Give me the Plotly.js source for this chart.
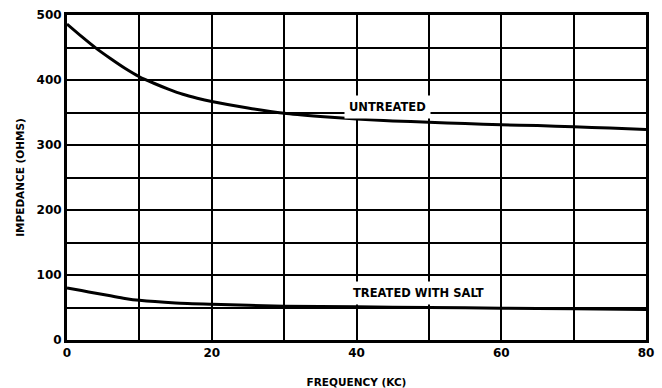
<!DOCTYPE html>
<html>
<head>
<meta charset="utf-8">
<script src="https://cdn.plot.ly/plotly-3.0.1.min.js"></script>
<style>
  html, body { margin: 0; padding: 0; background: #fff; }
  #chart { width: 662px; height: 388px; }
</style>
</head>
<body>
<div id="chart"></div>
<script>
// Impedance vs. frequency, untreated ground and ground treated with salt
const freqUntreated = [0, 2, 4, 6, 8, 10, 12, 14, 16, 18, 20, 25, 30, 35, 40, 45, 50, 55, 60, 65, 70, 75, 80];
const impUntreated  = [486, 467, 449, 433, 418, 405, 395, 386, 378, 372, 367, 357, 349, 344, 340, 337, 335, 333, 331, 330, 328, 326, 324];

const freqSalt = [0, 2, 4, 6, 8, 10, 15, 20, 30, 40, 50, 60, 70, 80];
const impSalt  = [80, 76, 72, 68, 64, 61, 57, 55, 52, 51, 50, 49, 48, 47];

const curveLabels = ["UNTREATED", "TREATED WITH SALT"];
const labelX = [44.3, 48.5];
const labelY = [359, 72];

const xTickVals = [0, 20, 40, 60, 80];
const yTickVals = [0, 100, 200, 300, 400, 500];

const ink = "#000";
const family = "DejaVu Sans, Arial, sans-serif";
const tickFont = { family: family, size: 12, color: ink, weight: "bold" };
const labelFont = { family: family, size: 11.5, color: ink, weight: "bold" };
const titleFont = { family: family, size: 10.5, color: ink, weight: "bold" };

const traces = [
  { x: freqUntreated, y: impUntreated, mode: "lines", line: { color: ink, width: 3, shape: "spline", smoothing: 0.6 }, hoverinfo: "skip" },
  { x: freqSalt, y: impSalt, mode: "lines", line: { color: ink, width: 3, shape: "spline", smoothing: 0.6 }, hoverinfo: "skip" }
];

const annotations = curveLabels.map((t, i) => ({
  x: labelX[i], y: labelY[i], xref: "x", yref: "y",
  text: t, showarrow: false, font: labelFont,
  bgcolor: "#fff", borderpad: 4
}));

const layout = {
  width: 662, height: 388,
  margin: { l: 67, r: 16, t: 15, b: 48 },
  paper_bgcolor: "#fff", plot_bgcolor: "#fff",
  showlegend: false,
  xaxis: {
    range: [0, 80], tickvals: xTickVals, ticks: "",
    showgrid: true, gridcolor: ink, gridwidth: 2,
    minor: { dtick: 10, showgrid: true, gridcolor: ink, gridwidth: 2, ticks: "" },
    showline: true, mirror: true, linecolor: ink, linewidth: 3,
    zeroline: false, tickfont: tickFont,
    title: { text: "FREQUENCY (KC)", font: titleFont, standoff: 20 }
  },
  yaxis: {
    range: [0, 500], tickvals: yTickVals, ticks: "",
    showgrid: true, gridcolor: ink, gridwidth: 2,
    minor: { dtick: 50, showgrid: true, gridcolor: ink, gridwidth: 2, ticks: "" },
    showline: true, mirror: true, linecolor: ink, linewidth: 3,
    zeroline: false, tickfont: tickFont,
    title: { text: "IMPEDANCE (OHMS)", font: titleFont, standoff: 10 }
  },
  annotations: annotations
};

Plotly.newPlot("chart", traces, layout, { displayModeBar: false, staticPlot: true });
</script>
</body>
</html>
